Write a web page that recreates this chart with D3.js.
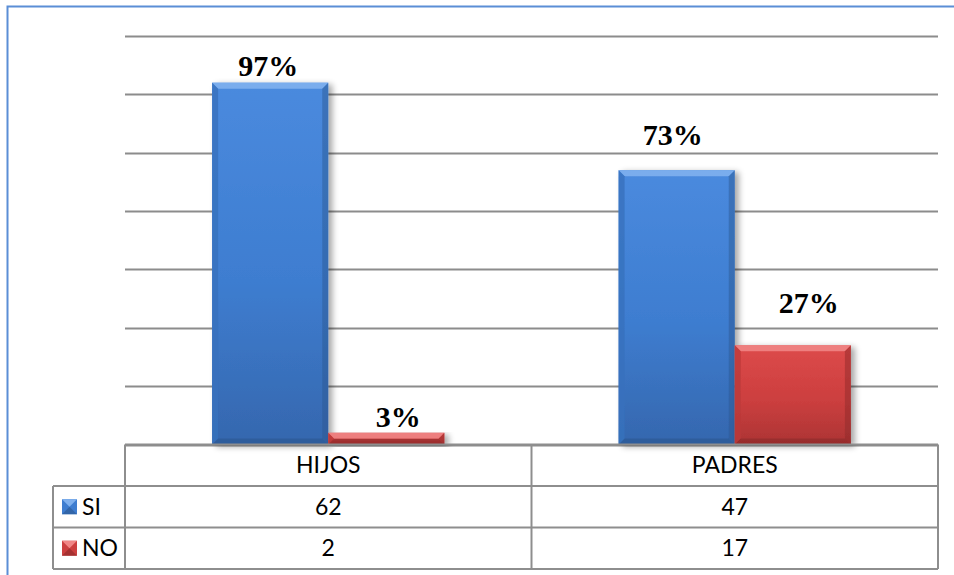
<!DOCTYPE html>
<meta charset="utf-8">
<title>SI / NO - Hijos y Padres</title>
<style>
body { margin:0; background:#fff; }
.grid line { stroke:#8c8c8c; stroke-width:2px; }
.tbl line { stroke:#8e8e8e; stroke-width:2px; }
.cell { font-family: Lato, "Noto Sans", sans-serif; font-size:23px; fill:#000; }
.pct { font-family: "Liberation Serif", "Times New Roman", serif; font-weight:bold; font-size:30px; fill:#000; }
</style>
<body>
<div id="chart"></div>
<script src="https://cdnjs.cloudflare.com/ajax/libs/d3/7.8.5/d3.min.js"></script>
<script>
// data
var categories = ["HIJOS", "PADRES"];
var seriesNames = ["SI", "NO"];
var siValues = [62, 47];
var noValues = [2, 17];
var yTicks = [0, 10, 20, 30, 40, 50, 60, 70];

var width = 954, height = 575;
var plot = {left:125, right:938, top:36, bottom:444.5};

var svg = d3.select("#chart").append("svg")
    .attr("width", width)
    .attr("height", height);

var defs = svg.append("defs");

var palette = {
  SI: {top:"#4a8ade", mid:"#3e7dd0", bot:"#3567ae", light:"#7fb0ee", dark:"#2b568f", side:"#3771bd"},
  NO: {top:"#dd4a4a", mid:"#cc3f3f", bot:"#ac3434", light:"#f08585", dark:"#8a2828", side:"#bb3a3a"}
};

seriesNames.forEach(function(s){
  var g = defs.append("linearGradient").attr("id", "grad" + s)
      .attr("x1", 0).attr("y1", 0).attr("x2", 0).attr("y2", 1);
  g.append("stop").attr("offset", "0%").attr("stop-color", palette[s].top);
  g.append("stop").attr("offset", "55%").attr("stop-color", palette[s].mid);
  g.append("stop").attr("offset", "100%").attr("stop-color", palette[s].bot);
});

var shadow = defs.append("filter").attr("id", "shadow")
    .attr("x", "-20%").attr("y", "-20%").attr("width", "140%").attr("height", "140%");
shadow.append("feGaussianBlur").attr("in", "SourceAlpha").attr("stdDeviation", 3);
shadow.append("feOffset").attr("dx", 4).attr("dy", 2).attr("result", "off");
shadow.append("feComponentTransfer").append("feFuncA").attr("type", "linear").attr("slope", 0.35);
var merge = shadow.append("feMerge");
merge.append("feMergeNode");
merge.append("feMergeNode").attr("in", "SourceGraphic");

// outer chart border (cut off right/bottom)
svg.append("path")
   .attr("d", "M7.5," + height + "V6.5H" + width)
   .attr("fill", "none")
   .attr("stroke", "#5b8ed6")
   .attr("stroke-width", 2);

var x0 = d3.scaleBand().domain(categories).range([plot.left, plot.right]).paddingInner(0).paddingOuter(0);
// gap width 150%: band = 2 bars + 1.5 bar
var barW = x0.bandwidth() / 3.5;
var x1 = d3.scaleBand().domain(seriesNames).range([0, barW * 2]);

var y = d3.scaleLinear().domain([0, 70]).range([plot.bottom, plot.top]);

// gridlines
svg.append("g").attr("class", "grid")
  .selectAll("line").data(yTicks).join("line")
    .attr("x1", plot.left).attr("x2", plot.right)
    .attr("y1", function(d){ return Math.round(y(d)) + 0.5; })
    .attr("y2", function(d){ return Math.round(y(d)) + 0.5; });

// bars
var bars = [];
categories.forEach(function(c, i){
  var total = siValues[i] + noValues[i];
  bars.push({cat:c, s:"SI", v:siValues[i], pct:siValues[i] / total});
  bars.push({cat:c, s:"NO", v:noValues[i], pct:noValues[i] / total});
});

function bx(d){ return x0(d.cat) + (x0.bandwidth() - barW * 2) / 2 + x1(d.s); }

var bar = svg.append("g").selectAll("g").data(bars).join("g")
    .attr("filter", "url(#shadow)");

bar.each(function(d){
  var g = d3.select(this);
  var x = bx(d), w = x1.bandwidth(), yt = y(d.v), yb = y(0), h = yb - yt;
  var b = Math.min(6, h / 2), p = palette[d.s];
  g.append("rect").attr("x", x).attr("y", yt).attr("width", w).attr("height", h)
   .attr("fill", "url(#grad" + d.s + ")");
  // bevel: top
  g.append("path").attr("fill", p.light).attr("opacity", 0.9)
   .attr("d", "M" + x + "," + yt + "H" + (x + w) + "L" + (x + w - b) + "," + (yt + b) + "H" + (x + b) + "Z");
  // bevel: left/right
  g.append("path").attr("fill", p.side).attr("opacity", 0.8)
   .attr("d", "M" + x + "," + yt + "L" + (x + b) + "," + (yt + b) + "V" + (yb - b) + "L" + x + "," + yb + "Z");
  g.append("path").attr("fill", p.dark).attr("opacity", 0.45)
   .attr("d", "M" + (x + w) + "," + yt + "L" + (x + w - b) + "," + (yt + b) + "V" + (yb - b) + "L" + (x + w) + "," + yb + "Z");
  // bevel: bottom
  g.append("path").attr("fill", p.dark).attr("opacity", 0.6)
   .attr("d", "M" + x + "," + yb + "L" + (x + b) + "," + (yb - b) + "H" + (x + w - b) + "L" + (x + w) + "," + yb + "Z");
});

// percentage labels (hand nudged as in the original)
var labelNudge = [[-2, -7], [12, -6], [-4, -25], [16, -32]];
svg.append("g").selectAll("text").data(bars).join("text")
    .attr("class", "pct")
    .attr("text-anchor", "middle")
    .attr("x", function(d, i){ return bx(d) + x1.bandwidth() / 2 + labelNudge[i][0]; })
    .attr("y", function(d, i){ return y(d.v) + labelNudge[i][1]; })
    .text(function(d){ return Math.round(d.pct * 100) + "%"; });

// data table
var rowH = 41.5;
var tTop = plot.bottom, legLeft = 53;
var tbl = svg.append("g").attr("class", "tbl");
var rows = [tTop, tTop + rowH, tTop + rowH * 2, tTop + rowH * 3];

tbl.append("line").attr("x1", plot.left).attr("x2", plot.right).attr("y1", rows[0]).attr("y2", rows[0]);
[1, 2, 3].forEach(function(r){
  tbl.append("line").attr("x1", legLeft).attr("x2", plot.right).attr("y1", rows[r]).attr("y2", rows[r]);
});
tbl.append("line").attr("x1", legLeft).attr("x2", legLeft).attr("y1", rows[1]).attr("y2", rows[3]);
[plot.left, x0(categories[1]), plot.right].forEach(function(xv){
  tbl.append("line").attr("x1", xv).attr("x2", xv).attr("y1", rows[0]).attr("y2", rows[3]);
});

var cellText = svg.append("g");
categories.forEach(function(c, i){
  var cx = x0(c) + x0.bandwidth() / 2;
  cellText.append("text").attr("class", "cell").attr("text-anchor", "middle")
    .attr("x", cx).attr("y", rows[0] + rowH / 2 + 8).text(c);
  cellText.append("text").attr("class", "cell").attr("text-anchor", "middle")
    .attr("x", cx).attr("y", rows[1] + rowH / 2 + 8).text(siValues[i]);
  cellText.append("text").attr("class", "cell").attr("text-anchor", "middle")
    .attr("x", cx).attr("y", rows[2] + rowH / 2 + 8).text(noValues[i]);
});

// legend keys in table
seriesNames.forEach(function(s, i){
  var ry = rows[i + 1] + rowH / 2;
  var k = 15, kx = 62, ky = ry - k / 2;
  var p = palette[s];
  cellText.append("rect").attr("x", kx).attr("y", ky).attr("width", k).attr("height", k)
    .attr("fill", p.mid);
  cellText.append("path").attr("fill", p.light)
    .attr("d", "M" + kx + "," + ky + "H" + (kx + k) + "L" + (kx + k / 2) + "," + (ky + k / 2) + "Z");
  cellText.append("path").attr("fill", p.dark).attr("opacity", 0.6)
    .attr("d", "M" + kx + "," + (ky + k) + "H" + (kx + k) + "L" + (kx + k / 2) + "," + (ky + k / 2) + "Z");
  cellText.append("text").attr("class", "cell")
    .attr("x", kx + k + 5).attr("y", ry + 8).text(s);
});
</script>
</body>
